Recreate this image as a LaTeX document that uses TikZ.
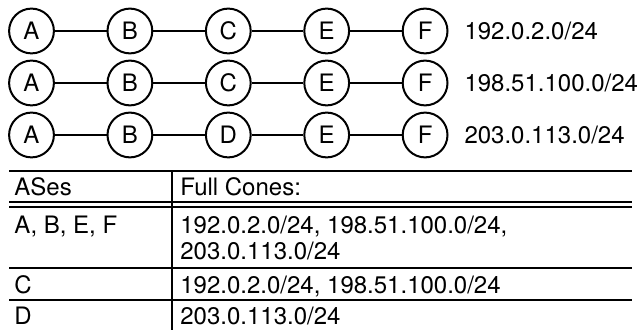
\documentclass[tikz,border=0pt]{standalone}
\usepackage{fontspec}
\setmainfont{TeX Gyre Heros}
\usetikzlibrary{positioning}
\tikzset
{
    asnode/.style  = {circle, draw=black, line width=1pt, minimum size=22.4pt, inner sep=0pt, font=\fontsize{12}{14}\selectfont},
    link/.style    = {line width=1pt},
    netlabel/.style = {inner sep=0pt, font=\fontsize{12}{14}\selectfont},
    cell/.style    = {anchor=base west, inner sep=0pt, font=\fontsize{12}{14}\selectfont},
    tblrule/.style = {line width=0.8pt}
}
\begin{document}
\begin{tikzpicture}[x=0.5pt, y=-0.5pt, node distance=25.8pt]
    \useasboundingbox (0,0) rectangle (637,330);

    % first path
    \node [asnode] (A1) at (31.5,31) {A};
    \node [asnode, right=of A1] (B1) {B};
    \node [asnode, right=of B1] (C1) {C};
    \node [asnode, right=of C1] (E1) {E};
    \node [asnode, right=of E1] (F1) {F};
    \node [netlabel, right=7.8pt of F1] (P1) {192.0.2.0/24};
    \draw [link] (A1) -- (B1) -- (C1) -- (E1) -- (F1);

    % second path
    \node [asnode] (A2) at (31.5,83) {A};
    \node [asnode, right=of A2] (B2) {B};
    \node [asnode, right=of B2] (C2) {C};
    \node [asnode, right=of C2] (E2) {E};
    \node [asnode, right=of E2] (F2) {F};
    \node [netlabel, right=7.8pt of F2] (P2) {198.51.100.0/24};
    \draw [link] (A2) -- (B2) -- (C2) -- (E2) -- (F2);

    % third path
    \node [asnode] (A3) at (31.5,135) {A};
    \node [asnode, right=of A3] (B3) {B};
    \node [asnode, right=of B3] (D3) {D};
    \node [asnode, right=of D3] (E3) {E};
    \node [asnode, right=of E3] (F3) {F};
    \node [netlabel, right=7.8pt of F3] (P3) {203.0.113.0/24};
    \draw [link] (A3) -- (B3) -- (D3) -- (E3) -- (F3);

    % table
    \draw [tblrule] (9,171) -- (632,171);
    \draw [tblrule] (9,202) -- (632,202);
    \draw [tblrule] (9,207) -- (632,207);
    \draw [tblrule] (9,268) -- (632,268);
    \draw [tblrule] (9,300) -- (632,300);
    \draw [tblrule] (172,171) -- (172,330);

    \node [cell] (hdrAS) at (14,195.5) {ASes};
    \node [cell] (hdrCone) at (180,195.5) {Full Cones:};
    \node [cell] (asABEF) at (14,234) {A, B, E, F};
    \node [cell] (coneABEFa) at (180,234) {192.0.2.0/24, 198.51.100.0/24,};
    \node [cell] (coneABEFb) at (180,260) {203.0.113.0/24};
    \node [cell] (asC) at (14,293.5) {C};
    \node [cell] (coneC) at (180,293.5) {192.0.2.0/24, 198.51.100.0/24};
    \node [cell] (asD) at (14,324.5) {D};
    \node [cell] (coneD) at (180,324.5) {203.0.113.0/24};
\end{tikzpicture}
\end{document}
